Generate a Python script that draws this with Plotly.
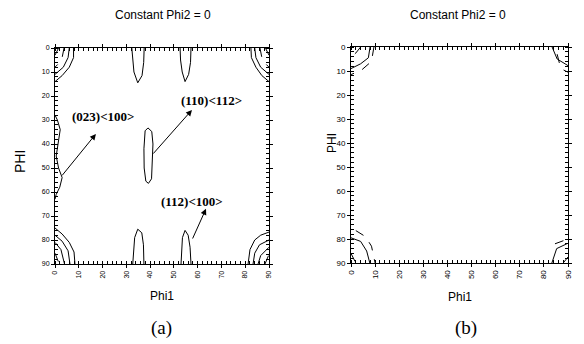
import plotly.graph_objects as go

# ---------------- data (Phi1, PHI) ----------------
# Panel (a) contour polylines
a_tl_outer = [(7.8, 0), (7.8, 4), (6, 8), (3, 11.5), (0, 14)]
a_tl_mid = [(6, 0), (5.5, 4), (3.5, 8), (0, 11)]
a_tl_inner = [(3.8, 0), (3, 4), (1.5, 6.5), (0, 8)]
a_tl_core = [(1.5, 0), (0, 3)]
a_tr_outer = [(82.4, 0), (82.6, 4), (84.5, 8), (87, 11.5), (90, 14)]
a_tr_mid = [(84, 0), (84.5, 4), (86.5, 8), (90, 11)]
a_tr_inner = [(86.2, 0), (87, 4), (88.5, 6.5), (90, 8)]
a_tr_core = [(88.5, 0), (90, 3)]
a_bl_outer = [(0, 75), (3, 77.5), (6, 81), (8, 85), (8.4, 90)]
a_bl_mid = [(0, 78), (3, 80.5), (5.5, 84.5), (6.3, 90)]
a_bl_inner = [(0, 81), (2.5, 84), (4, 90)]
a_bl_core = [(0, 85.5), (1.8, 90)]
a_br_outer = [(81.2, 90), (82, 84), (84, 80), (86.5, 78), (90, 76.7)]
a_br_mid = [(83.3, 90), (84, 85.5), (86, 82), (90, 80)]
a_br_inner = [(85.4, 90), (86.5, 86.5), (90, 83)]
a_br_core = [(88.3, 90), (90, 86)]
a_top_1 = [(32.3, 0), (32.6, 5), (33.2, 10), (34.8, 14.5), (36.6, 11.5), (37.3, 6), (37.5, 0)]
a_top_2 = [(52.6, 0), (52.8, 5), (53.5, 10), (54.7, 14), (56.2, 11), (57, 6), (57.2, 0)]
a_mid_loop = [(39.1, 33.3), (37.9, 34.5), (37.4, 42), (37.5, 50), (38.2, 55.5), (39.3, 56.4),
              (40.6, 54.5), (41, 47), (41.2, 40), (40.7, 34.8), (39.1, 33.3)]
a_bot_1 = [(32.7, 90), (33, 84), (33.5, 79), (34.8, 75.5), (36.5, 77), (37.2, 82), (37.4, 90)]
a_bot_2 = [(53, 90), (53.2, 84), (53.6, 79), (54.7, 76), (56, 78), (56.8, 83), (57.2, 90)]
a_left = [(0, 28), (1, 30), (2.2, 34), (1.2, 40), (0.5, 45), (1.5, 50), (3, 54),
          (2, 58), (0.5, 61), (0, 63)]

# Panel (b) contour polylines
b_tl_solid = [(7.9, 0), (7.2, 4.5), (4, 7), (0, 9)]
b_tl_dash = [(9.5, 0), (8.5, 6), (4.5, 9.5), (0, 11.5)]
b_tl_core = [(4, 0), (2, 2.5), (0, 4.5)]
b_tr_solid = [(83.4, 0), (85.5, 5), (89.6, 7.5), (90, 7.8)]
b_tr_dash = [(85.5, 3), (87, 9), (90, 10.5)]
b_bl_solid = [(0, 79.5), (4, 81), (6.5, 85), (7.8, 90)]
b_bl_dash = [(2, 76.5), (6, 79), (8.5, 83), (10, 90)]
b_bl_core = [(0, 86), (2, 90)]
b_br_solid = [(83.3, 90), (85.3, 84), (89.5, 82), (90, 81.8)]
b_br_dash = [(84.6, 82), (90, 80)]
b_br_core = [(88, 90), (90, 87.5)]

# Labels with arrows in panel (a): text, text position, arrow tail, arrow head
label_texts = ["(023)<100>", "(110)<112>", "(112)<100>"]
label_pos = [(20.2, 28.7), (66.0, 21.7), (57.6, 63.8)]
arrow_tail = [(2.5, 53.7), (40.8, 44.6), (57.6, 80.0)]
arrow_head = [(17.2, 35.8), (57.6, 25.8), (63.5, 67.0)]

title_text = "Constant Phi2 = 0"
x_title = "Phi1"
y_title = "PHI"
panel_tags = ["(a)", "(b)"]
tick_vals = [0, 10, 20, 30, 40, 50, 60, 70, 80, 90]

# ---------------- styling / layout ----------------
W, H = 584, 344
panel_a_solid = [a_tl_outer, a_tl_mid, a_tr_outer, a_tr_mid, a_bl_outer, a_bl_mid,
                 a_br_outer, a_br_mid, a_top_1, a_top_2, a_mid_loop, a_bot_1, a_bot_2, a_left,
                 a_bl_inner, a_br_inner]
panel_a_dash = [a_tl_inner, a_tr_inner, a_tl_core, a_tr_core, a_bl_core, a_br_core]
panel_b_solid = [b_tl_solid, b_tr_solid, b_bl_solid, b_br_solid]
panel_b_dash = [b_tl_dash, b_tl_core, b_tr_dash, b_bl_dash, b_bl_core, b_br_dash, b_br_core]

fig = go.Figure()


def add_lines(lines, xa, ya, dash):
    for ln in lines:
        fig.add_trace(go.Scatter(
            x=[p[0] for p in ln], y=[p[1] for p in ln], mode="lines",
            line=dict(color="black", width=1, dash=dash),
            xaxis=xa, yaxis=ya, showlegend=False, hoverinfo="skip"))


add_lines(panel_a_solid, "x", "y", "solid")
add_lines(panel_a_dash, "x", "y", "dash")
add_lines(panel_b_solid, "x2", "y2", "solid")
add_lines(panel_b_dash, "x2", "y2", "dash")


def px_x(p):
    return p / W


def px_y(p):
    return 1 - p / H


def axis_common(font_size, xaxis):
    d = dict(
        range=[0, 90] if xaxis else [90, 0],
        tickvals=tick_vals, ticktext=[str(v) for v in tick_vals],
        showline=True, linecolor="black", linewidth=1, mirror="allticks",
        ticks="outside", ticklen=3, tickcolor="black", tickwidth=1,
        minor=dict(ticks="inside", dtick=2, ticklen=3, tickcolor="black", tickwidth=1, showgrid=False),
        showgrid=False, zeroline=False, automargin=False,
        tickfont=dict(family="Arial", size=font_size, color="black"),
        fixedrange=True,
    )
    if xaxis:
        d["tickangle"] = -90
    return d


xa = axis_common(7, True)
xa.update(domain=[px_x(55), px_x(269)], anchor="y")
ya = axis_common(7, False)
ya.update(domain=[px_y(264), px_y(48)], anchor="x")
xb = axis_common(8, True)
xb.update(domain=[px_x(351), px_x(568)], anchor="y2")
yb = axis_common(8, False)
yb.update(domain=[px_y(263), px_y(47)], anchor="x2")

annotations = []
for txt, pos, tail, head in zip(label_texts, label_pos, arrow_tail, arrow_head):
    annotations.append(dict(
        x=head[0], y=head[1], ax=tail[0], ay=tail[1], xref="x", yref="y",
        axref="x", ayref="y", showarrow=True, arrowhead=2, arrowsize=1.2,
        arrowwidth=1, arrowcolor="black", text=""))
    annotations.append(dict(
        x=pos[0], y=pos[1], xref="x", yref="y", text="<b>" + txt + "</b>",
        showarrow=False, font=dict(family="Liberation Serif", size=13, color="black")))


def paper_text(text, x, y, size, family="Arial", angle=0):
    annotations.append(dict(
        x=px_x(x), y=px_y(y), xref="paper", yref="paper", text=text, showarrow=False,
        textangle=angle, xanchor="center", yanchor="middle",
        font=dict(family=family, size=size, color="black")))


paper_text(title_text, 163, 15, 12)
paper_text(title_text, 458, 15, 12)
paper_text(x_title, 162, 296, 12)
paper_text(x_title, 460, 297, 12)
paper_text(y_title, 20, 162, 14, angle=-90)
paper_text(y_title, 332, 143, 12, angle=-90)
paper_text(panel_tags[0], 161, 328, 19, family="Liberation Serif")
paper_text(panel_tags[1], 466, 328, 19, family="Liberation Serif")

fig.update_layout(
    width=W, height=H, margin=dict(l=0, r=0, t=0, b=0, pad=0, autoexpand=False),
    paper_bgcolor="white", plot_bgcolor="white",
    xaxis=xa, yaxis=ya, xaxis2=xb, yaxis2=yb,
    annotations=annotations, showlegend=False,
)

fig.write_html(
    "out.html",
    config={"displayModeBar": False, "responsive": False},
    post_script="document.body.style.margin='0';document.body.style.padding='0';"
                "document.documentElement.style.overflow='hidden';",
)
